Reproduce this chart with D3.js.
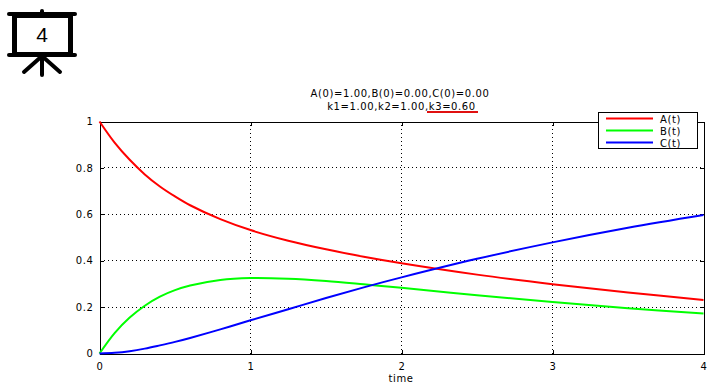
<!DOCTYPE html>
<html>
<head>
<meta charset="utf-8">
<script src="https://cdn.jsdelivr.net/npm/d3@7"></script>
<style>
  html, body { margin: 0; padding: 0; background: #fff; }
  text { font-family: "DejaVu Sans", sans-serif; font-size: 10px; fill: #000; letter-spacing: 0.6px; }
</style>
</head>
<body>
<div id="chart"></div>
<script>
var timeValues = [0, 0.1, 0.2, 0.3, 0.4, 0.5, 0.6, 0.8, 1, 1.25, 1.5, 1.75, 2, 2.5, 3, 3.5, 4];
var aValues = [1, 0.909, 0.835, 0.772, 0.72, 0.677, 0.639, 0.579, 0.532, 0.486, 0.449, 0.417, 0.389, 0.34, 0.299, 0.263, 0.231];
var bValues = [0, 0.088, 0.155, 0.206, 0.245, 0.273, 0.293, 0.317, 0.325, 0.322, 0.312, 0.298, 0.283, 0.251, 0.222, 0.195, 0.172];
var cValues = [0, 0.003, 0.01, 0.021, 0.035, 0.05, 0.067, 0.104, 0.143, 0.191, 0.239, 0.285, 0.328, 0.408, 0.479, 0.542, 0.597];
var seriesNames = ["A(t)", "B(t)", "C(t)"];
var seriesColors = ["#ff0000", "#00ff00", "#0000ff"];
var xTicks = [0, 1, 2, 3, 4];
var yTicks = [0, 0.2, 0.4, 0.6, 0.8, 1];
var titleLines = ["A(0)=1.00,B(0)=0.00,C(0)=0.00", "k1=1.00,k2=1.00,k3=0.60"];

var w = 728, h = 388;
var svg = d3.select("#chart").append("svg")
  .attr("width", w)
  .attr("height", h)
  .style("display", "block");

var x = d3.scaleLinear().domain([0, 4]).range([99.5, 703.5]);
var y = d3.scaleLinear().domain([0, 1]).range([353.5, 121.5]);

// dotted grid
var grid = svg.append("g").attr("shape-rendering", "crispEdges");
grid.selectAll("line.gx").data(xTicks.slice(1, -1)).enter().append("line")
  .attr("x1", x).attr("x2", x)
  .attr("y1", y(0)).attr("y2", y(1))
  .attr("stroke", "#000").attr("stroke-dasharray", "1,3");
grid.selectAll("line.gy").data(yTicks.slice(1, -1)).enter().append("line")
  .attr("x1", x(0)).attr("x2", x(4))
  .attr("y1", y).attr("y2", y)
  .attr("stroke", "#000").attr("stroke-dasharray", "1,3");

// axes, ticks point inwards
var xAxis = svg.append("g")
  .attr("transform", "translate(0," + y(0) + ")")
  .call(d3.axisBottom(x).tickValues(xTicks).tickFormat(d3.format("d")).tickSize(-4).tickPadding(9));
var yAxis = svg.append("g")
  .attr("transform", "translate(" + x(0) + ",0)")
  .call(d3.axisLeft(y).tickValues(yTicks).tickFormat(function(d) { return d; }).tickSize(-4).tickPadding(6));
var xTop = svg.append("g")
  .attr("transform", "translate(0," + y(1) + ")")
  .call(d3.axisTop(x).tickValues(xTicks).tickFormat("").tickSize(-4));
var yRight = svg.append("g")
  .attr("transform", "translate(" + x(4) + ",0)")
  .call(d3.axisRight(y).tickValues(yTicks).tickFormat("").tickSize(-4));
[xAxis, yAxis, xTop, yRight].forEach(function(a) {
  a.attr("shape-rendering", "crispEdges");
  a.selectAll("text").style("font-family", "DejaVu Sans").style("font-size", "10px");
});

svg.append("text")
  .attr("x", 401).attr("y", 382)
  .attr("text-anchor", "middle")
  .text("time");

// curves
var line = d3.line()
  .x(function(d) { return x(d[0]); })
  .y(function(d) { return y(d[1]); })
  .curve(d3.curveCatmullRom.alpha(0.5));

[aValues, bValues, cValues].forEach(function(vals, i) {
  svg.append("path")
    .datum(vals.map(function(v, j) { return [timeValues[j], v]; }))
    .attr("fill", "none")
    .attr("stroke", seriesColors[i])
    .attr("stroke-width", 2)
    .attr("d", line);
});

// title
titleLines.forEach(function(t, i) {
  svg.append("text")
    .attr("x", i == 0 ? 400 : 401.5).attr("y", 97 + i * 13)
    .attr("text-anchor", "middle")
    .text(t);
});
svg.append("line")
  .attr("x1", 427).attr("x2", 478)
  .attr("y1", 112).attr("y2", 112)
  .attr("stroke", "#e01010").attr("stroke-width", 2);

// legend
var legend = svg.append("g");
legend.append("rect")
  .attr("x", 598.5).attr("y", 112.5)
  .attr("width", 99).attr("height", 36)
  .attr("fill", "#fff").attr("stroke", "#000")
  .attr("shape-rendering", "crispEdges");
seriesNames.forEach(function(name, i) {
  var ly = 118.5 + i * 12;
  legend.append("line")
    .attr("x1", 606).attr("x2", 653)
    .attr("y1", ly).attr("y2", ly)
    .attr("stroke", seriesColors[i]).attr("stroke-width", 2);
  legend.append("text")
    .attr("x", 660).attr("y", ly + 4.5)
    .text(name);
});

// presentation icon, top left
var icon = svg.append("g")
  .attr("stroke", "#000").attr("fill", "none").attr("stroke-linecap", "round");
icon.append("line").attr("x1", 9).attr("x2", 75).attr("y1", 14).attr("y2", 14).attr("stroke-width", 4);
icon.append("line").attr("x1", 9).attr("x2", 75).attr("y1", 55).attr("y2", 55).attr("stroke-width", 4);
icon.append("line").attr("x1", 42).attr("x2", 42).attr("y1", 11).attr("y2", 13).attr("stroke-width", 4);
icon.append("rect").attr("x", 14.5).attr("y", 15.5).attr("width", 56).attr("height", 39).attr("stroke-width", 5);
icon.append("line").attr("x1", 42).attr("x2", 42).attr("y1", 56).attr("y2", 75).attr("stroke-width", 4);
icon.append("line").attr("x1", 42).attr("x2", 24).attr("y1", 56).attr("y2", 72).attr("stroke-width", 4);
icon.append("line").attr("x1", 42).attr("x2", 60).attr("y1", 56).attr("y2", 72).attr("stroke-width", 4);
svg.append("text")
  .attr("x", 42).attr("y", 42)
  .attr("text-anchor", "middle")
  .style("font-family", "Liberation Sans")
  .style("font-size", "21px")
  .style("letter-spacing", "0")
  .text("4");
</script>
</body>
</html>
